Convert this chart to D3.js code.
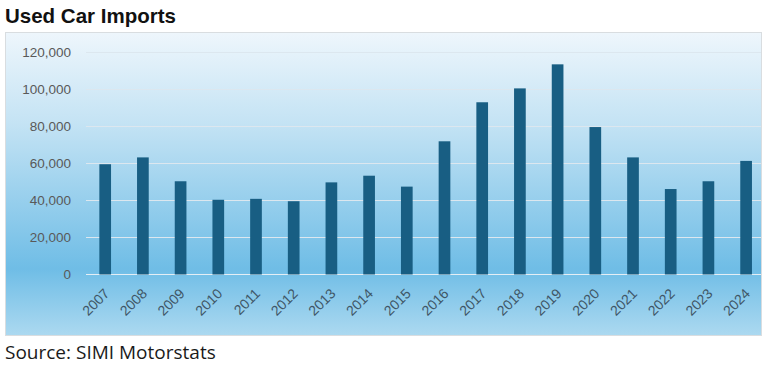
<!DOCTYPE html>
<html>
<head>
<meta charset="utf-8">
<script src="https://cdn.jsdelivr.net/npm/d3@7"></script>
<style>
  html, body { margin: 0; padding: 0; background: #fff; }
  svg { display: block; }
</style>
</head>
<body>
<script>
// chart data
const years = ["2007","2008","2009","2010","2011","2012","2013","2014","2015",
               "2016","2017","2018","2019","2020","2021","2022","2023","2024"];
const imports = [59600, 63300, 50400, 40400, 40900, 39600, 49800, 53400, 47500,
                 72000, 93100, 100600, 113600, 79700, 63300, 46200, 50400, 61400];
const yTicks = [0, 20000, 40000, 60000, 80000, 100000, 120000];

const width = 768, height = 367;

const svg = d3.select("body").append("svg")
    .attr("width", width)
    .attr("height", height);

// background gradient of the panel
const defs = svg.append("defs");
const grad = defs.append("linearGradient")
    .attr("id", "bg")
    .attr("x1", 0).attr("y1", 0).attr("x2", 0).attr("y2", 1);
grad.append("stop").attr("offset", "0%").attr("stop-color", "#eef6fc");
grad.append("stop").attr("offset", "30%").attr("stop-color", "#c4e3f4");
grad.append("stop").attr("offset", "78%").attr("stop-color", "#6fbde6");
grad.append("stop").attr("offset", "100%").attr("stop-color", "#acd9f0");

svg.append("rect")
    .attr("x", 5.5).attr("y", 32.5)
    .attr("width", 756).attr("height", 303)
    .attr("fill", "url(#bg)")
    .attr("stroke", "#d9dde0")
    .attr("stroke-width", 1);

// title
svg.append("text")
    .attr("x", 5).attr("y", 23)
    .attr("font-family", "Liberation Sans, Arial, sans-serif")
    .attr("font-weight", "bold")
    .attr("font-size", 20.5)
    .attr("fill", "#111")
    .text("Used Car Imports");

// source
svg.append("text")
    .attr("x", 5).attr("y", 359)
    .attr("font-family", "Open Sans, sans-serif")
    .attr("font-size", 19)
    .attr("fill", "#1a1a1a")
    .text("Source: SIMI Motorstats");

// scales
const x = d3.scaleBand()
    .domain(years)
    .range([86, 765.3])
    .paddingInner(0.69)
    .paddingOuter(0.354);

const y = d3.scaleLinear()
    .domain([0, 120000])
    .range([274.5, 52.5]);

// gridlines
svg.append("g")
    .selectAll("line")
    .data(yTicks)
    .join("line")
    .attr("x1", 86).attr("x2", 761)
    .attr("y1", d => y(d)).attr("y2", d => y(d))
    .attr("stroke", d => d === 0 ? "#e4eef5" : "#dce7ef")
    .attr("stroke-width", 1);

// y axis labels
const yAxis = svg.append("g")
    .attr("transform", "translate(86,0)")
    .call(d3.axisLeft(y).tickValues(yTicks).tickSize(0).tickPadding(15)
        .tickFormat(d3.format(",")));
yAxis.select(".domain").remove();
yAxis.selectAll("text")
    .attr("font-family", "Liberation Sans, Arial, sans-serif")
    .attr("font-size", 13.5)
    .attr("fill", "#595959");

// bars
svg.append("g")
    .selectAll("rect")
    .data(imports)
    .join("rect")
    .attr("x", (d, i) => x(years[i]))
    .attr("y", d => y(d))
    .attr("width", x.bandwidth())
    .attr("height", d => y(0) - y(d))
    .attr("fill", "#185e83");

// x axis labels
const xAxis = svg.append("g")
    .attr("transform", `translate(0,${y(0)})`)
    .call(d3.axisBottom(x).tickSize(0).tickPadding(0));
xAxis.select(".domain").remove();
xAxis.selectAll("text")
    .attr("font-family", "Liberation Sans, Arial, sans-serif")
    .attr("font-size", 14)
    .attr("fill", "#3f5666")
    .attr("text-anchor", "end")
    .attr("y", 0)
    .attr("dy", null)
    .attr("transform", "translate(5,20) rotate(-45)");
</script>
</body>
</html>
